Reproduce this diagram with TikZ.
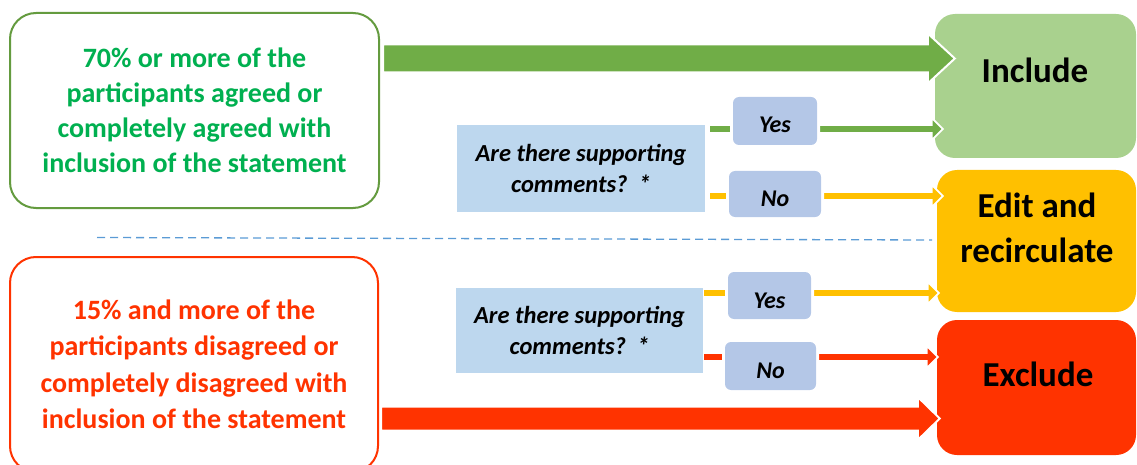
\documentclass[tikz,border=0pt]{standalone}
\usepackage{fontspec}
\setmainfont{Carlito}
\usetikzlibrary{calc}
\definecolor{gborder}{HTML}{649B3F}
\definecolor{gtext}{HTML}{00B050}
\definecolor{garrow}{HTML}{70AD47}
\definecolor{incfill}{HTML}{A9D18E}
\definecolor{editfill}{HTML}{FFC000}
\definecolor{exred}{HTML}{FF3300}
\definecolor{qfill}{HTML}{BDD7EE}
\definecolor{ynfill}{HTML}{B4C7E7}
\definecolor{dashblue}{HTML}{5B9BD5}
\newcommand\shapedarrow[7]{%
  \draw[fill=#6,draw=white,line width=#7,line join=miter]
  ($(#1)+(0,#3)$) -- ($(#2)+(-#4,#3)$) -- ($(#2)+(-#4,#5)$) -- (#2)
  -- ($(#2)+(-#4,-#5)$) -- ($(#2)+(-#4,-#3)$) -- ($(#1)+(0,-#3)$) -- cycle;}
\tikzset{
  critbox/.style={draw, line width=2pt, fill=white, rounded corners=26pt, align=center,
    font=\bfseries\fontsize{28}{35}\selectfont},
  outbox/.style={rounded corners=20pt, inner sep=0pt},
  outtext/.style={anchor=base, align=center, font=\bfseries\fontsize{35}{45}\selectfont},
  qbox/.style={fill=qfill, inner sep=0pt, align=center,
    font=\bfseries\itshape\fontsize{24.5}{31.5}\selectfont},
  ynbox/.style={fill=ynfill, rounded corners=6pt, inner sep=0pt},
  yntext/.style={anchor=base, font=\bfseries\itshape\fontsize{24}{28}\selectfont},
  stub/.style={line width=6pt}
}
\begin{document}
\begin{tikzpicture}[x=1pt,y=-1pt]
\useasboundingbox (0,0) rectangle (1137,465);
\clip (0,0) rectangle (1137,465);

% criterion boxes
\node[critbox, draw=gborder, text=gtext, minimum width=369pt, minimum height=195pt] (agree) at (194.5,110.5)
  {70\% or more of the\\participants agreed or\\completely agreed with\\inclusion of the statement};
\node[critbox, draw=exred, text=exred, minimum width=368pt, minimum height=215pt,
  font=\bfseries\fontsize{28}{36.5}\selectfont] (disagree) at (194,364.5)
  {15\% and more of the\\participants disagreed or\\completely disagreed with\\inclusion of the statement};

% outcome boxes
\node[outbox, fill=incfill, minimum width=201pt, minimum height=144pt] (inc) at (1035.5,86) {};
\node[outbox, fill=editfill, minimum width=199pt, minimum height=142pt] (edit) at (1036.5,241) {};
\node[outbox, fill=exred, minimum width=199pt, minimum height=135pt] (exc) at (1036.5,387.5) {};
\node[outtext] (inct) at (1035,83) {Include};
\node[outtext] (editt) at (1037,262) {Edit and\\recirculate};
\node[outtext] (exct) at (1038,386) {Exclude};

% separator
\draw[dashblue, line width=1.3pt, dash pattern=on 8pt off 5pt] (97,237.5) -- (932,240);

% question boxes
\node[qbox, minimum width=248pt, minimum height=87pt] (q1) at (581,168.5) {Are there supporting\\comments?~~*};
\node[qbox, minimum width=247pt, minimum height=85pt] (q2) at (579.5,330.5) {Are there supporting\\comments?~~*};

% yes / no boxes
\node[ynbox, minimum width=84pt, minimum height=48pt] (y1) at (775,121) {};
\node[ynbox, minimum width=92pt, minimum height=46pt] (n1) at (775,194) {};
\node[ynbox, minimum width=83pt, minimum height=47pt] (y2) at (769.5,295.5) {};
\node[ynbox, minimum width=91pt, minimum height=48pt] (n2) at (770.5,366) {};
\node[yntext] (y1t) at (775,133) {Yes};
\node[yntext] (n1t) at (775,207) {No};
\node[yntext] (y2t) at (769.5,308) {Yes};
\node[yntext] (n2t) at (770.5,378) {No};

% line heights
\coordinate (ly1) at (0,129);
\coordinate (ln1) at (0,196);
\coordinate (ly2) at (0,293);
\coordinate (ln2) at (0,357);

% stubs from question boxes
\draw[stub, garrow] ($(q1.east |- ly1)+(5,0)$) -- ($(y1.west |- ly1)+(-3,0)$);
\draw[stub, editfill] ($(q1.east |- ln1)+(5,0)$) -- ($(n1.west |- ln1)+(-3,0)$);
\draw[stub, editfill] ($(q2.east |- ly2)+(1,0)$) -- ($(y2.west |- ly2)+(-3,0)$);
\draw[stub, exred] ($(q2.east |- ln2)+(1,0)$) -- ($(n2.west |- ln2)+(-3,0)$);

% thin arrows
\coordinate (a1s) at ($(y1.east |- ly1)+(2,0)$);
\coordinate (a1e) at ($(inc.west |- ly1)+(8,0)$);
\coordinate (a2s) at ($(n1.east |- ln1)+(2,0)$);
\coordinate (a2e) at ($(edit.west |- ln1)+(6,0)$);
\coordinate (a3s) at ($(y2.east |- ly2)+(2,0)$);
\coordinate (a3e) at ($(edit.west |- ly2)+(2,0)$);
\coordinate (a4s) at ($(n2.east |- ln2)+(2,0)$);
\coordinate (a4e) at ($(exc.west |- ln2)+(1,0)$);
\shapedarrow{a1s}{a1e}{4}{11}{11}{garrow}{1.8pt}
\shapedarrow{a2s}{a2e}{4}{11}{11}{editfill}{1.8pt}
\shapedarrow{a3s}{a3e}{4}{11}{11}{editfill}{1.8pt}
\shapedarrow{a4s}{a4e}{4}{11}{11}{exred}{1.8pt}

% big arrows
\coordinate (bgs) at ($(agree.east |- 0,58.5)+(3,0)$);
\coordinate (bge) at ($(inc.west |- 0,58.5)+(20,0)$);
\coordinate (brs) at ($(disagree.east |- 0,418.5)+(2,0)$);
\coordinate (bre) at ($(exc.west |- 0,418.5)+(3,0)$);
\shapedarrow{bgs}{bge}{14}{27}{25}{garrow}{2pt}
\shapedarrow{brs}{bre}{12}{22}{21.5}{exred}{2pt}
\end{tikzpicture}
\end{document}
